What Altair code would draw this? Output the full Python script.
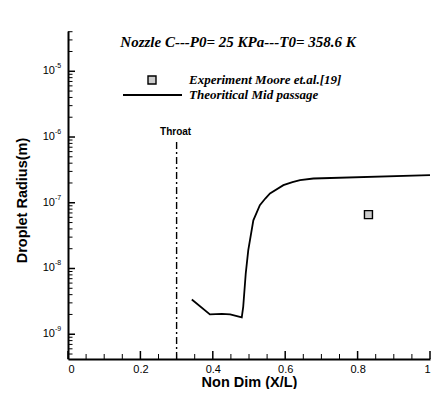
import altair as alt
import pandas as pd

# ---- data ----
x_mid = [0.342, 0.392, 0.425, 0.448, 0.480, 0.484, 0.491, 0.498, 0.512, 0.530,
         0.545, 0.558, 0.595, 0.620, 0.641, 0.678, 1.0]
r_mid = [3.37e-9, 2.0e-9, 2.04e-9, 2.0e-9, 1.80e-9, 2.6e-9, 8.4e-9, 1.9e-8, 5.4e-8, 9.2e-8,
         1.16e-7, 1.39e-7, 1.85e-7, 2.06e-7, 2.21e-7, 2.34e-7, 2.63e-7]
x_exp = [0.830]
r_exp = [6.6e-8]
throat_x = [0.3]
throat_r = [4.2e-10, 8.75e-7]

x_major = [0, 0.2, 0.4, 0.6, 0.8, 1.0]
x_minor = [0.05, 0.1, 0.15, 0.25, 0.3, 0.35, 0.45, 0.5, 0.55, 0.65, 0.7, 0.75, 0.85, 0.9, 0.95]
y_decades = [-9, -8, -7, -6, -5]
y_minor = [k * 10.0 ** n for n in range(-10, -4) for k in range(2, 10)
           if 4.2e-10 <= k * 10.0 ** n <= 4.1e-5]

title_text = "Nozzle C---P0= 25 KPa---T0= 358.6 K"
legend_labels = ["Experiment Moore et.al.[19]", "Theoritical Mid passage"]

W, H = 362, 328
SANS = "Liberation Sans"
SERIF = "Liberation Serif"

xs = alt.Scale(domain=[0, 1], nice=False, zero=False)
ys = alt.Scale(type="log", domain=[4.2e-10, 4.1e-5], nice=False)

mid = pd.DataFrame({"x": x_mid, "r": r_mid})
exp = pd.DataFrame({"x": x_exp, "r": r_exp})
thr = pd.DataFrame({"x": throat_x * 2, "r": throat_r})

line = alt.Chart(mid).mark_line(color="black", strokeWidth=1.8).encode(
    x=alt.X("x:Q", scale=xs,
            axis=alt.Axis(values=x_major, format="~g", ticks=False, tickSize=0, grid=False,
                          domainColor="black", domainWidth=2,
                          labelFont=SANS, labelFontSize=11, labelColor="black", labelPadding=4,
                          title="Non Dim (X/L)", titleFont=SANS, titleFontSize=14.5,
                          titleFontWeight="bold", titleColor="black",
                          titleX=181, titleY=23, titleBaseline="middle")),
    y=alt.Y("r:Q", scale=ys,
            axis=alt.Axis(labels=False, ticks=False, tickSize=0, grid=False,
                          domainColor="black", domainWidth=2,
                          title="Droplet Radius(m)", titleFont=SANS, titleFontSize=14.5,
                          titleFontWeight="bold", titleColor="black", titleAngle=-90,
                          titleX=-46, titleY=169, titleBaseline="middle", titleAlign="center")),
)

throat = alt.Chart(thr).mark_line(color="black", strokeWidth=1.4, strokeDash=[7, 3, 2, 3]).encode(
    x=alt.X("x:Q", scale=xs), y=alt.Y("r:Q", scale=ys))

throat_lbl = alt.Chart(pd.DataFrame({"x": throat_x, "r": [throat_r[1]], "t": ["Throat"]})).mark_text(
    font=SANS, fontSize=10, fontWeight="bold", color="black", baseline="bottom", dy=-4, dx=-1
).encode(x=alt.X("x:Q", scale=xs), y=alt.Y("r:Q", scale=ys), text="t:N")

pts = alt.Chart(exp).mark_square(size=64, fill="#cccccc", stroke="black", strokeWidth=1.4, opacity=1).encode(
    x=alt.X("x:Q", scale=xs), y=alt.Y("r:Q", scale=ys))

# inward ticks
xmaj = alt.Chart(pd.DataFrame({"x": x_major})).mark_rule(color="black", strokeWidth=1.5).encode(
    x=alt.X("x:Q", scale=xs), y=alt.value(H), y2=alt.value(H - 8))
xmin = alt.Chart(pd.DataFrame({"x": x_minor})).mark_rule(color="black", strokeWidth=1).encode(
    x=alt.X("x:Q", scale=xs), y=alt.value(H), y2=alt.value(H - 5))
ymaj = alt.Chart(pd.DataFrame({"r": [10.0 ** d for d in y_decades]})).mark_rule(color="black", strokeWidth=1.5).encode(
    y=alt.Y("r:Q", scale=ys), x=alt.value(0), x2=alt.value(7))
ymin = alt.Chart(pd.DataFrame({"r": y_minor})).mark_rule(color="black", strokeWidth=1).encode(
    y=alt.Y("r:Q", scale=ys), x=alt.value(0), x2=alt.value(4.5))

# y tick labels 10^n
dec = pd.DataFrame({"r": [10.0 ** d for d in y_decades], "base": ["10"] * len(y_decades),
                    "ex": [str(d) for d in y_decades]})
ylab_base = alt.Chart(dec).mark_text(font=SANS, fontSize=11, align="right", baseline="middle", color="black").encode(
    y=alt.Y("r:Q", scale=ys), x=alt.value(-13), text="base:N")
ylab_exp = alt.Chart(dec).mark_text(font=SANS, fontSize=7, align="left", baseline="middle", dy=-5, color="black").encode(
    y=alt.Y("r:Q", scale=ys), x=alt.value(-13), text="ex:N")

# title
ttl = alt.Chart(pd.DataFrame({"t": [title_text]})).mark_text(
    font=SERIF, fontSize=15, fontStyle="italic", fontWeight="bold", color="black", align="center", baseline="middle"
).encode(x=alt.value(170), y=alt.value(11), text="t:N")

# legend
leg_sq = alt.Chart(pd.DataFrame({"k": [0]})).mark_square(size=64, fill="#cccccc", stroke="black", strokeWidth=1.4, opacity=1).encode(
    x=alt.value(84), y=alt.value(49))
leg_ln = alt.Chart(pd.DataFrame({"k": [0]})).mark_rule(color="black", strokeWidth=1.8).encode(
    x=alt.value(55), x2=alt.value(114), y=alt.value(64))
leg_txt = alt.Chart(pd.DataFrame({"t": legend_labels, "yy": [49, 64]})).mark_text(
    font=SERIF, fontSize=13, fontStyle="italic", fontWeight="bold", color="black", align="left", baseline="middle"
).encode(x=alt.value(121), y=alt.Y("yy:Q", scale=None), text="t:N")

chart = alt.layer(line, throat, throat_lbl, pts, xmaj, xmin, ymaj, ymin, ylab_base, ylab_exp,
                  ttl, leg_sq, leg_ln, leg_txt).properties(
    width=W, height=H, autosize="none",
    padding={"left": 60, "top": 23, "right": 4, "bottom": 30},
    background="white",
).configure_view(stroke=None)

chart.save("out.html", embed_options={"renderer": "svg", "actions": False})
